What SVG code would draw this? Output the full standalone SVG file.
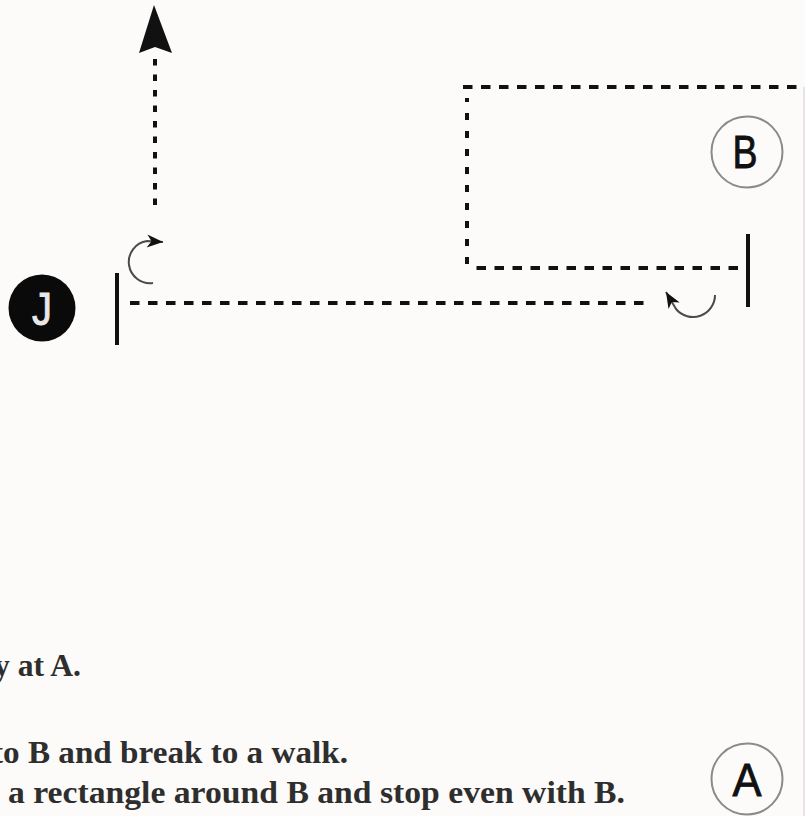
<svg xmlns="http://www.w3.org/2000/svg" width="805" height="816" viewBox="0 0 805 816">
  <style>
    .dash-h { stroke: #111; stroke-width: 4; fill: none; stroke-dasharray: 9.5 8.5; }
    .dash-v { stroke: #111; stroke-width: 4; fill: none; stroke-dasharray: 7 11; }
    .dot-v { stroke: #111; stroke-width: 4; fill: none; stroke-dasharray: 6.5 9; }
    .bar { stroke: #111; stroke-width: 4; }
    .turn { stroke: #4a4a4a; stroke-width: 2; fill: none; marker-end: url(#tip); }
    .ring { fill: #fdfbf9; stroke: #8a8a8a; stroke-width: 2; }
    .letter { font-family: "Liberation Sans", Arial, sans-serif; font-size: 47px; text-anchor: middle; stroke-width: 0.9; }
    .note { font-family: "Liberation Serif", "Times New Roman", serif; font-size: 31px; font-weight: bold; fill: #2e2e2e; }
  </style>
  <defs>
    <marker id="tip" viewBox="-17 -8 19 16" refX="0" refY="0" markerWidth="19" markerHeight="16" markerUnits="userSpaceOnUse" orient="auto">
      <path d="M0,0 L-16,-6.5 L-11.5,0 L-16,6.5 Z" fill="#111"/>
    </marker>
  </defs>

  <rect width="805" height="816" fill="#fdfbf9"/>

  <!-- route lines, stop bars and turn arrows -->
  <g id="connectors">
    <!-- exit straight up from J -->
    <line class="dot-v" x1="155" y1="205" x2="155" y2="57"/>
    <polygon points="154,5 172,53 155,47 139,53" fill="#111"/>
    <!-- J line across to B -->
    <line class="dash-h" x1="130" y1="303" x2="645" y2="303"/>
    <!-- rectangle around B -->
    <line class="dash-h" x1="738" y1="268" x2="474" y2="268"/>
    <line class="dash-v" x1="467" y1="264" x2="467" y2="98"/>
    <line class="dash-h" x1="463" y1="87" x2="805" y2="87"/>
    <line x1="804" y1="87" x2="804" y2="816" stroke="#dedbd8" stroke-width="1.5"/>
    <!-- stop bars -->
    <line class="bar" x1="117" y1="273" x2="117" y2="345"/>
    <line class="bar" x1="748" y1="234" x2="748" y2="307"/>
    <!-- turns -->
    <path class="turn" d="M153,283 A21,21 0 0 1 147,241 L163,242"/>
    <path class="turn" d="M715,295 A22,22 0 0 1 676,309 L666,292"/>
  </g>

  <g id="node-J">
    <circle cx="42" cy="308" r="33.5" fill="#0a0a0a"/>
    <text class="letter" x="42" y="325" fill="#e8e8e8" stroke="#e8e8e8" textLength="20" lengthAdjust="spacingAndGlyphs">J</text>
  </g>

  <g id="node-B">
    <circle class="ring" cx="747" cy="152" r="35.5"/>
    <text class="letter" x="745" y="168" fill="#111" stroke="#111" textLength="25" lengthAdjust="spacingAndGlyphs">B</text>
  </g>

  <g id="node-A">
    <circle class="ring" cx="747" cy="779" r="35.5"/>
    <text class="letter" x="747" y="796" fill="#111" stroke="#111" textLength="29" lengthAdjust="spacingAndGlyphs">A</text>
  </g>

  <g id="notes">
    <text class="note" x="-6" y="676" textLength="87" lengthAdjust="spacingAndGlyphs">y at A.</text>
    <text class="note" x="-8" y="763" textLength="356" lengthAdjust="spacingAndGlyphs">to B and break to a walk.</text>
    <text class="note" x="8" y="803" textLength="617" lengthAdjust="spacingAndGlyphs">a rectangle around B and stop even with B.</text>
  </g>
</svg>
